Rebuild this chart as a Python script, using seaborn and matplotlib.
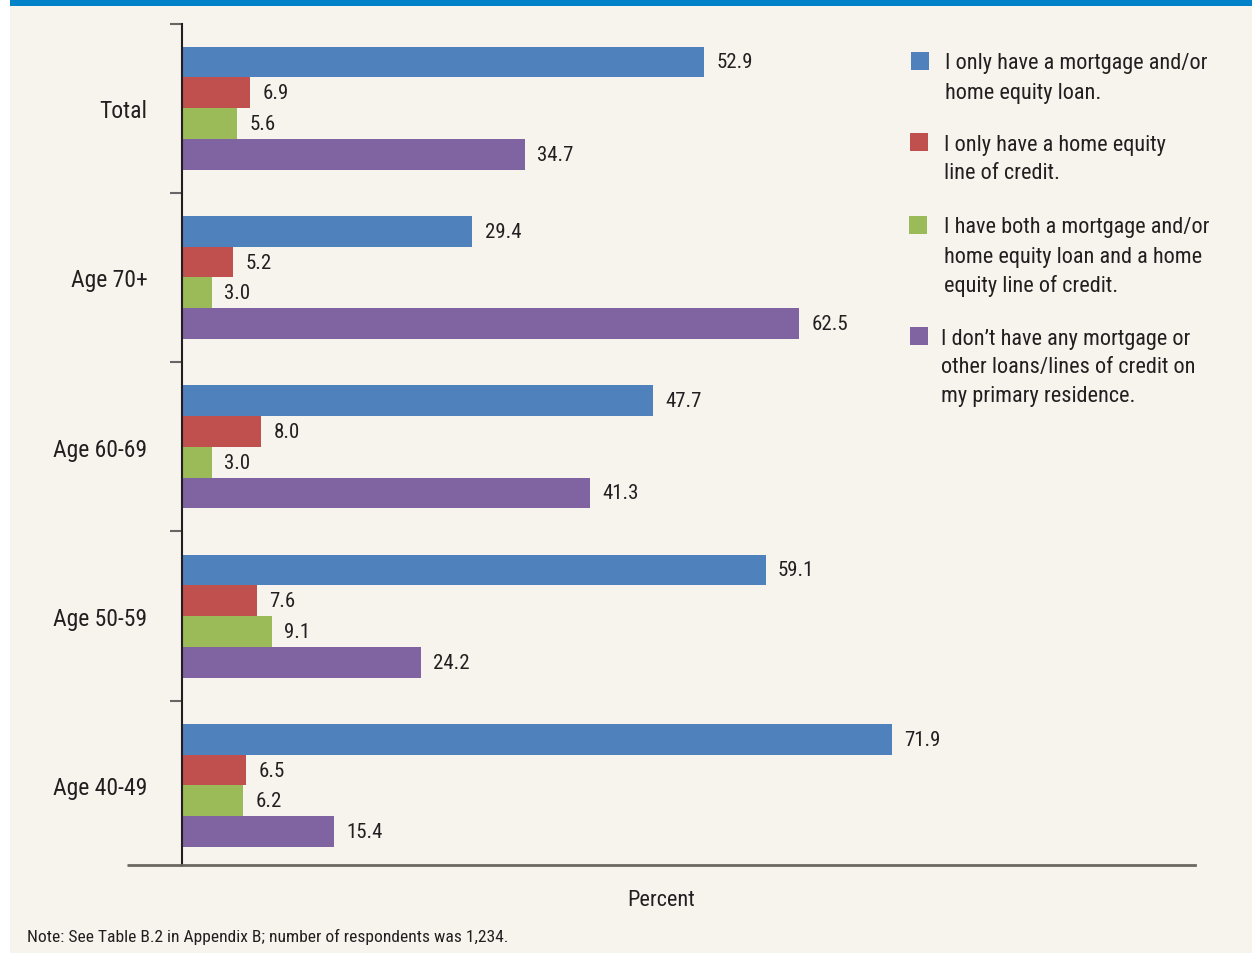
import matplotlib
matplotlib.use("Agg")
import matplotlib.pyplot as plt
from matplotlib.patches import Rectangle
import seaborn as sns
import pandas as pd

# --- data -------------------------------------------------------------
groups = ["Total", "Age 70+", "Age 60-69", "Age 50-59", "Age 40-49"]
series = [
    "I only have a mortgage and/or\nhome equity loan.",
    "I only have a home equity\nline of credit.",
    "I have both a mortgage and/or\nhome equity loan and a home\nequity line of credit.",
    "I don\u2019t have any mortgage or\nother loans/lines of credit on\nmy primary residence.",
]
mortgage_only = [52.9, 29.4, 47.7, 59.1, 71.9]
heloc_only = [6.9, 5.2, 8.0, 7.6, 6.5]
both = [5.6, 3.0, 3.0, 9.1, 6.2]
none = [34.7, 62.5, 41.3, 24.2, 15.4]
colors = ["#4F81BD", "#C0504D", "#9BBB59", "#8064A2"]

rows = []
for s, vals in zip(series, [mortgage_only, heloc_only, both, none]):
    for g, v in zip(groups, vals):
        rows.append({"group": g, "series": s, "value": v})
df = pd.DataFrame(rows)

# --- style ------------------------------------------------------------
sns.set_style("white")
FONT = ["Liberation Sans Narrow", "Roboto Condensed", "Liberation Sans", "DejaVu Sans"]
plt.rcParams["font.family"] = FONT
TEXT = "#231f20"
BG = "#f7f4ee"

fig = plt.figure(figsize=(12.52, 9.54), dpi=100)
fig.patch.set_facecolor("white")
# beige panel and blue band along the top
fig.patches.append(Rectangle((10 / 1252, 0), 1 - 10 / 1252, 1, transform=fig.transFigure,
                             facecolor=BG, edgecolor="none", zorder=-10))
fig.patches.append(Rectangle((10 / 1252, 1 - 7 / 954), 1 - 10 / 1252, 7 / 954,
                             transform=fig.transFigure, facecolor="#0082c8",
                             edgecolor="none", zorder=-9))

ax = fig.add_axes([182 / 1252, 1 - 866 / 954, (1195 - 182) / 1252, (866 - 24.5) / 954])
ax.set_facecolor("none")

sns.barplot(data=df, y="group", x="value", hue="series", order=groups,
            hue_order=series, palette=colors, orient="h", width=0.727,
            saturation=1, edgecolor="none", linewidth=0, gap=0, ax=ax,
            legend=False, errorbar=None)

for cont in ax.containers:
    ax.bar_label(cont, fmt="%.1f", padding=9, fontsize=15, color=TEXT)

ax.set_xlim(0, 102.6)
ax.set_ylim(4.47, -0.5)
ax.set_xticks([])
ax.set_xlabel("")
ax.set_ylabel("")

# group labels on minor ticks, separators on major ticks
ax.set_yticks([-0.5, 0.5, 1.5, 2.5, 3.5])
ax.set_yticklabels([])
ax.set_yticks(range(len(groups)), minor=True)
ax.set_yticklabels(groups, minor=True, fontsize=17, color=TEXT)
ax.tick_params(axis="y", which="major", left=True, length=9, width=1.5, color="#666666")
ax.tick_params(axis="y", which="minor", left=False, length=0, pad=25)

for side in ["top", "right"]:
    ax.spines[side].set_visible(False)
ax.spines["left"].set_color("#231f20")
ax.spines["left"].set_linewidth(1.5)
ax.spines["bottom"].set_color("#6b6761")
ax.spines["bottom"].set_linewidth(2)
ax.plot([-55 / 1013, 0], [0, 0], transform=ax.transAxes, color="#6b6761",
        linewidth=2, clip_on=False, solid_capstyle="butt")

# legend drawn as squares with wrapped text
W, H = 1252, 954
legend_y = [62, 143, 226, 337]
sq_x = [911, 910, 909, 910]
txt_x = [945, 944, 944, 941]
for i, s in enumerate(series):
    cy = legend_y[i]
    fig.patches.append(Rectangle((sq_x[i] / W, 1 - (cy + 9) / H), 18 / W, 18 / H,
                                 transform=fig.transFigure, facecolor=colors[i],
                                 edgecolor="none"))
    for j, line in enumerate(s.split("\n")):
        fig.text(txt_x[i] / W, 1 - (cy + 2 + 29 * j) / H, line, ha="left", va="center",
                 fontsize=16, color=TEXT)

fig.text(661 / W, 1 - 901 / H, "Percent", ha="center", va="center", fontsize=16, color=TEXT)
fig.text(27 / W, 1 - 937 / H, "Note: See Table B.2 in Appendix B; number of respondents was 1,234.",
         ha="left", va="center", fontsize=12.6, color=TEXT)

fig.savefig("out.png", dpi=100, facecolor=fig.get_facecolor())
